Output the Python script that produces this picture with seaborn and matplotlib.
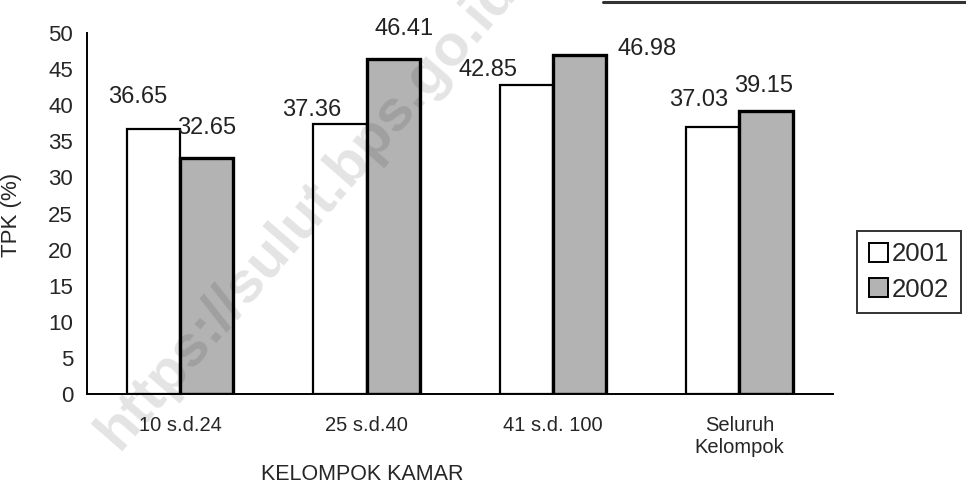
import numpy as np
import pandas as pd
import matplotlib.pyplot as plt
from matplotlib.lines import Line2D
from matplotlib.patches import Patch
import seaborn as sns

categories = ['10 s.d.24', '25 s.d.40', '41 s.d. 100', 'Seluruh\nKelompok']
tpk_2001 = [36.65, 37.36, 42.85, 37.03]
tpk_2002 = [32.65, 46.41, 46.98, 39.15]
years = ['2001', '2002']

df = pd.DataFrame({
    'kelompok': categories * 2,
    'tpk': tpk_2001 + tpk_2002,
    'tahun': [years[0]] * 4 + [years[1]] * 4,
})

sns.set_style('white')
plt.rcParams['font.family'] = ['Liberation Sans', 'DejaVu Sans']

fig = plt.figure(figsize=(9.66, 4.87), dpi=100)
ax = fig.add_axes([0.090, 0.191, 0.772, 0.741])

sns.barplot(data=df, x='kelompok', y='tpk', hue='tahun',
            palette={'2001': 'white', '2002': '#b3b3b3'},
            width=0.57, gap=0, edgecolor='black', linewidth=1.6,
            saturation=1, ax=ax, legend=False)

# thicker edge on the grey bars
for p in ax.containers[1]:
    p.set_linewidth(2.4)

# value labels, offsets (pixels)
offsets = [
    [(-16, 32), (-28, 14), (-38, 15), (-14, 27)],
    [(0, 30), (11, 30), (67, 6), (-2, 25)],
]
for cont, offs, vals in zip(ax.containers, offsets, [tpk_2001, tpk_2002]):
    for bar, (dx, dy), v in zip(cont, offs, vals):
        ax.annotate(f'{v:.2f}', (bar.get_x() + bar.get_width() / 2, bar.get_height()),
                    xytext=(dx, dy), textcoords='offset pixels',
                    ha='center', va='center', fontsize=17, color='#222222')

ax.set_ylim(0, 50)
ax.set_yticks(np.arange(0, 51, 5))
ax.set_xlim(-0.5, 3.5)
ax.set_xticks([0.5, 1.5, 2.5, 3.5])
ax.set_xticklabels([])
ax.set_xticks(range(4), minor=True)
ax.set_xticklabels(categories, minor=True, fontsize=14.5)
ax.tick_params(axis='x', which='minor', length=0, pad=16)
ax.tick_params(axis='x', which='major', direction='out', length=6, width=1.3, color='black')
ax.tick_params(axis='y', direction='out', length=6, width=1.3, color='black', labelsize=16, pad=4)

for s in ['top', 'right']:
    ax.spines[s].set_visible(False)
for s in ['left', 'bottom']:
    ax.spines[s].set_color('black')
    ax.spines[s].set_linewidth(1.4)

ax.set_xlabel('KELOMPOK KAMAR', fontsize=15.5)
ax.xaxis.set_label_coords(0.369, -0.195)
ax.set_ylabel('TPK (%)', fontsize=16)
ax.yaxis.set_label_coords(-0.087, 0.496)

handles = [Patch(facecolor='white', edgecolor='black', linewidth=1.4),
           Patch(facecolor='#b3b3b3', edgecolor='black', linewidth=1.4)]
leg = fig.legend(handles, years, loc='upper left', bbox_to_anchor=(0.874, 0.553),
                 fontsize=18.5, frameon=True, fancybox=False, handlelength=0.75,
                 handleheight=0.75, handletextpad=0.15, labelspacing=0.45,
                 borderpad=0.45)
leg.get_frame().set_edgecolor('black')
leg.get_frame().set_linewidth(1.4)

# border line of the scanned page at the top
fig.add_artist(Line2D([603 / 966, 1.0], [0.996, 0.996], color='#333333', lw=2.2))

# watermark (cut by the top edge, as in the scan)
fig.text(308 / 966, 1 - 211 / 487, 'https://sulut.bps.go.id', rotation=49,
         rotation_mode='anchor', ha='center', va='center', fontsize=42,
         fontweight='bold', color='black', alpha=0.11, zorder=10)

fig.savefig('out.png', dpi=100)
